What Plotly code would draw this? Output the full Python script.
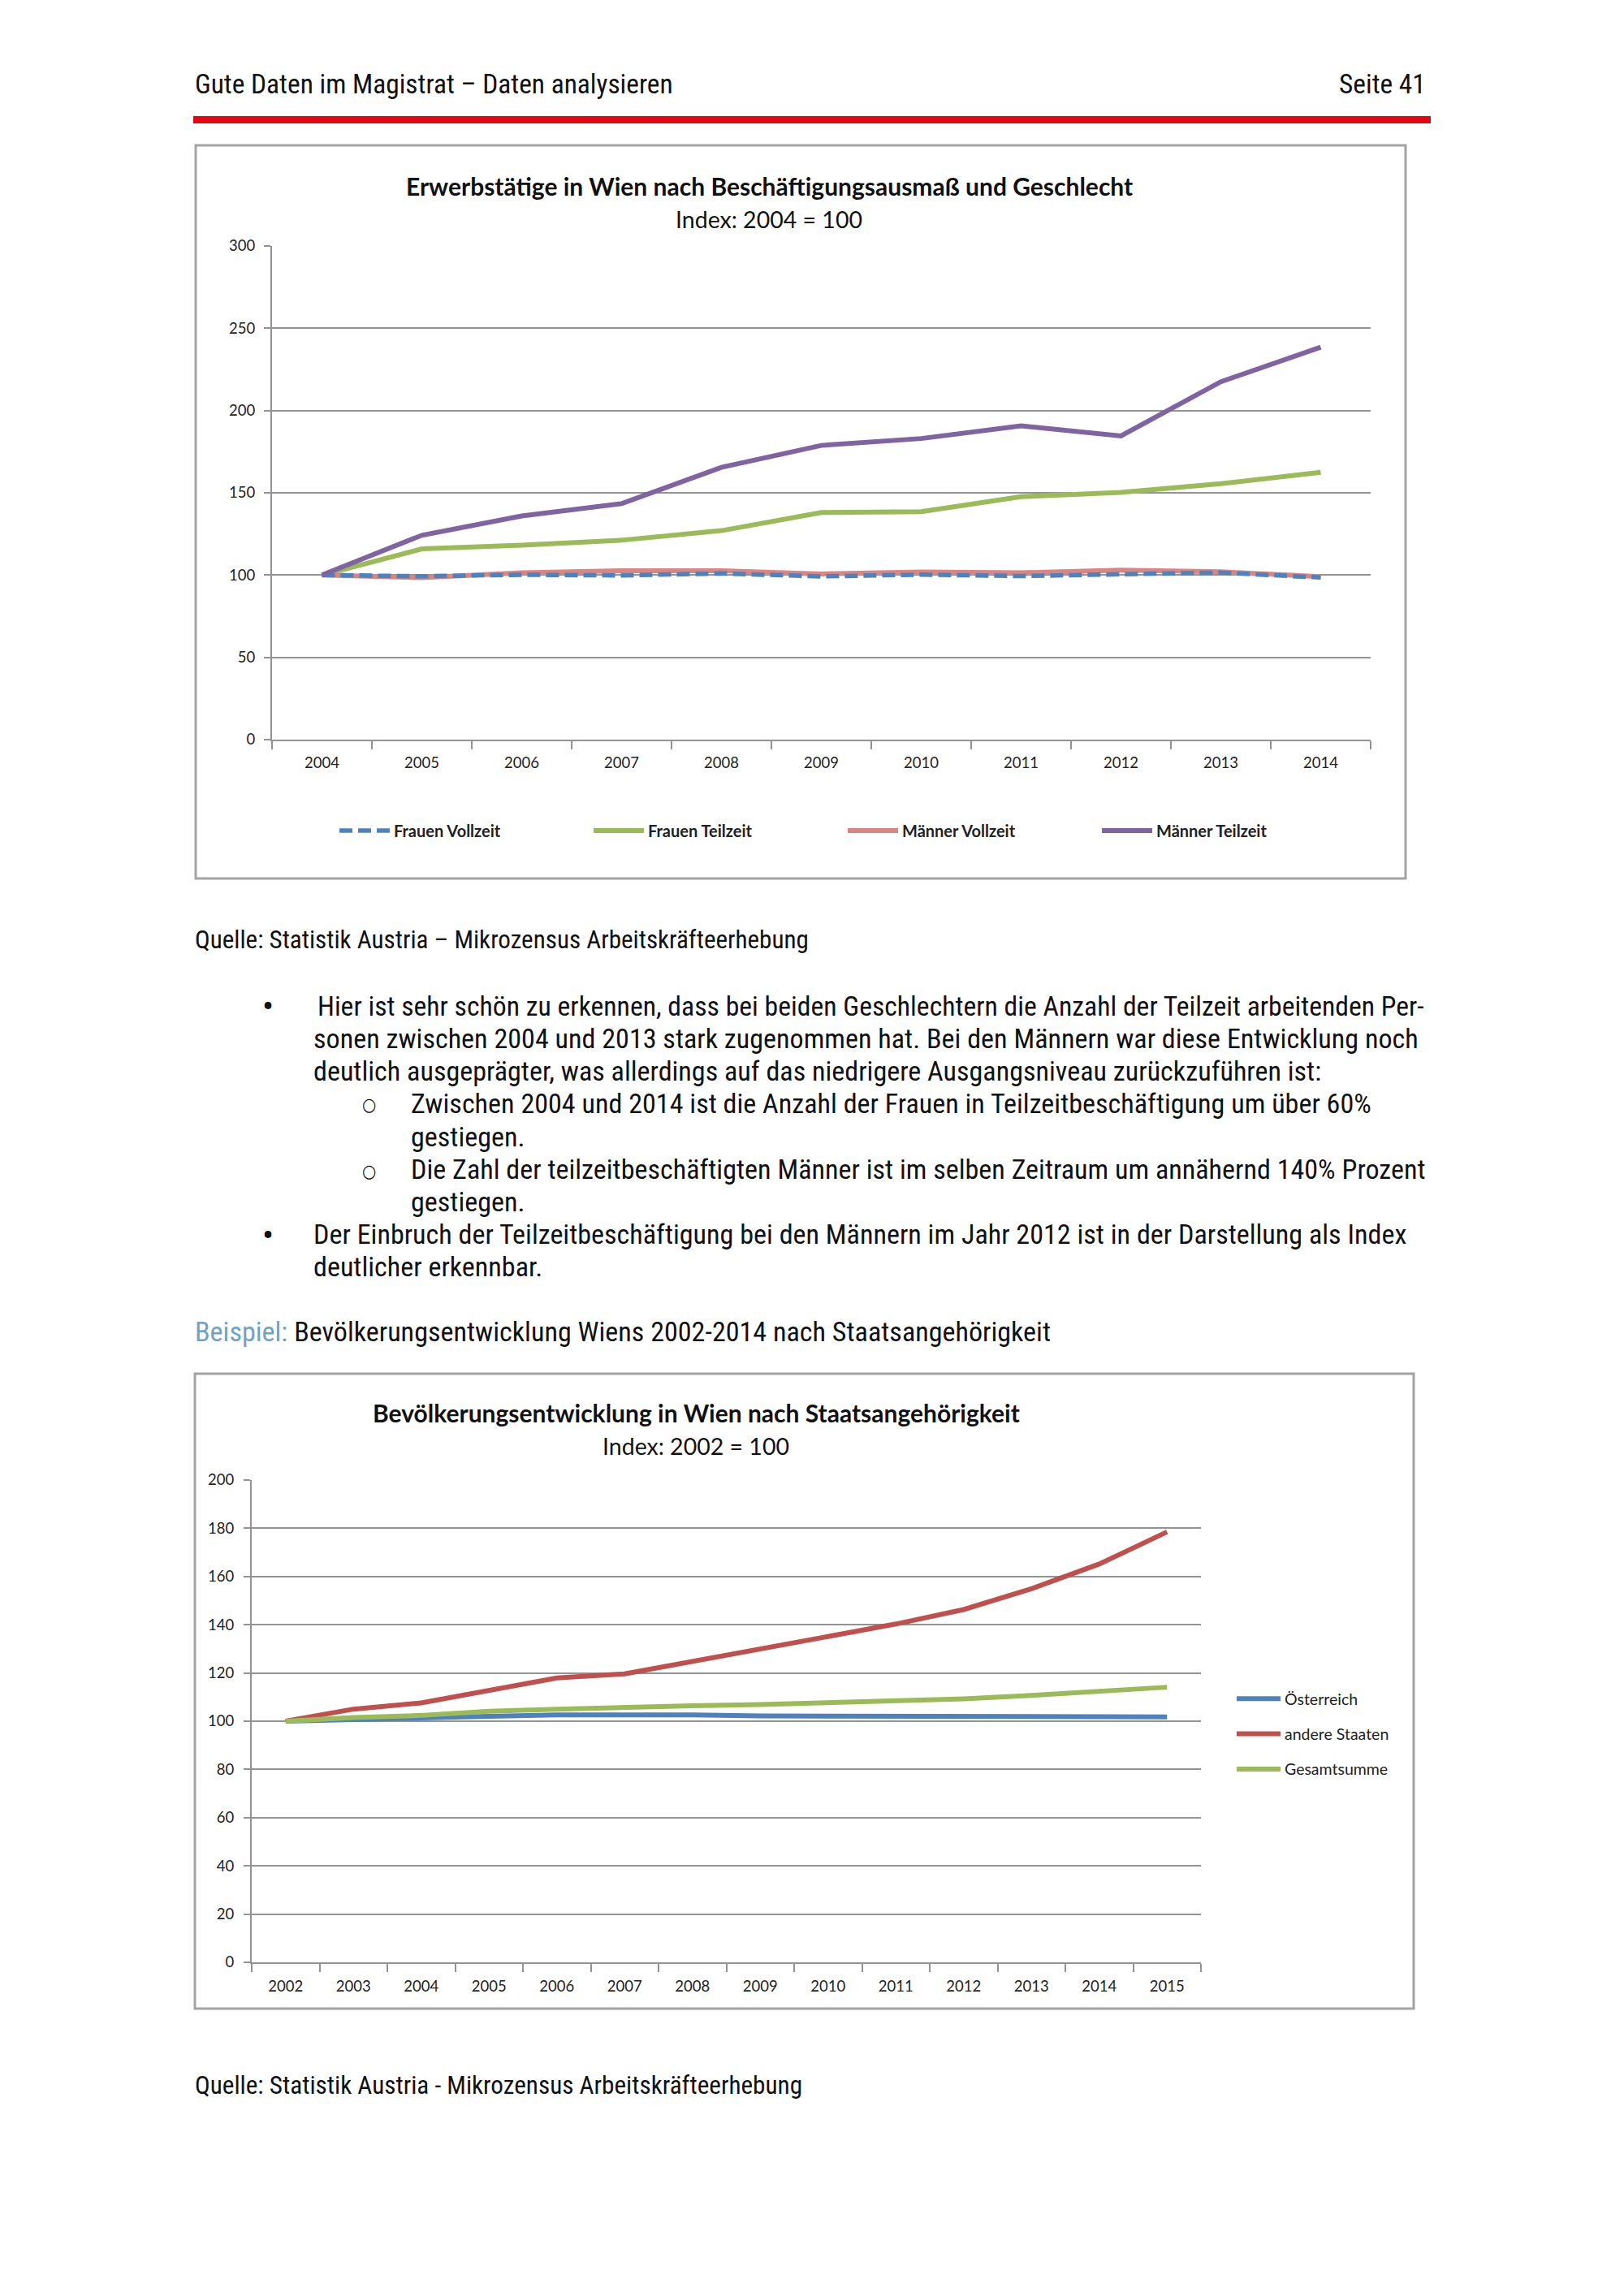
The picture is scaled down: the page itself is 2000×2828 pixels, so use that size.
import plotly.graph_objects as go

W, H = 2000, 2828
OFF = 8  # the page body adds an 8px offset; compensate so page positions match
def px(x): return (x - OFF) / W
def py(y): return 1 - (y - OFF) / H

# ---------------- data ----------------
years1 = [str(y) for y in range(2004, 2015)]
frauen_vollzeit = [100, 99.3, 100.2, 99.8, 101.0, 99.2, 100.3, 99.4, 100.5, 101.5, 98.5]
frauen_teilzeit = [100, 115.9, 118.2, 121.2, 127.0, 138.0, 138.5, 147.6, 150.3, 155.5, 162.5]
maenner_vollzeit = [100, 98.4, 101.4, 102.6, 102.6, 100.7, 101.9, 101.4, 103.0, 102.0, 99.0]
maenner_teilzeit = [100, 124.2, 135.9, 143.4, 165.5, 178.8, 183.0, 190.7, 184.6, 217.5, 238.5]

years2 = [str(y) for y in range(2002, 2016)]
oesterreich = [100, 100.5, 101.0, 102.0, 102.6, 102.8, 102.6, 102.2, 102.2, 102.1, 102.0, 102.0, 101.9, 101.8]
andere_staaten = [100, 105.0, 107.6, 112.7, 117.9, 119.6, 124.8, 129.9, 134.8, 140.3, 146.3, 154.9, 165.2, 178.5]
gesamtsumme = [100, 101.5, 102.4, 104.1, 105.0, 105.9, 106.4, 106.9, 107.6, 108.4, 109.3, 110.7, 112.2, 114.1]

# ---------------- styles ----------------
C_BLUE = "#4F81BD"
C_GREEN = "#9BBB59"
C_SALMON = "#D98683"
C_PURPLE = "#8064A2"
C_RED = "#C0504D"
GRID = "#939393"
CHART_FONT = "Lato, Open Sans, sans-serif"
BODY_FONT = "Liberation Sans Narrow, Arial Narrow, Roboto Condensed, DejaVu Sans Condensed, sans-serif"
LW = 6

fig = go.Figure()

# chart 1 traces (legendrank keeps legend order)
fig.add_trace(go.Scatter(x=years1, y=frauen_teilzeit, name="Frauen Teilzeit", mode="lines",
                         line=dict(color=C_GREEN, width=LW), legend="legend", legendrank=2,
                         xaxis="x", yaxis="y"))
fig.add_trace(go.Scatter(x=years1, y=maenner_vollzeit, name="Männer Vollzeit", mode="lines",
                         line=dict(color=C_SALMON, width=LW), legend="legend", legendrank=3,
                         xaxis="x", yaxis="y"))
fig.add_trace(go.Scatter(x=years1, y=frauen_vollzeit, name="Frauen Vollzeit", mode="lines",
                         line=dict(color=C_BLUE, width=LW - 0.5, dash="16px,7px"), legend="legend",
                         legendrank=1, xaxis="x", yaxis="y"))
fig.add_trace(go.Scatter(x=years1, y=maenner_teilzeit, name="Männer Teilzeit", mode="lines",
                         line=dict(color=C_PURPLE, width=LW), legend="legend", legendrank=4,
                         xaxis="x", yaxis="y"))

# chart 2 traces
fig.add_trace(go.Scatter(x=years2, y=oesterreich, name="Österreich", mode="lines",
                         line=dict(color=C_BLUE, width=LW), legend="legend2", legendgroup="a",
                         xaxis="x2", yaxis="y2"))
fig.add_trace(go.Scatter(x=years2, y=andere_staaten, name="andere Staaten", mode="lines",
                         line=dict(color=C_RED, width=LW), legend="legend2", legendgroup="b",
                         xaxis="x2", yaxis="y2"))
fig.add_trace(go.Scatter(x=years2, y=gesamtsumme, name="Gesamtsumme", mode="lines",
                         line=dict(color=C_GREEN, width=LW), legend="legend2", legendgroup="c",
                         xaxis="x2", yaxis="y2"))

axis_common = dict(showline=True, linecolor=GRID, linewidth=2, ticks="outside",
                   tickcolor=GRID, tickwidth=2, tickfont=dict(family=CHART_FONT, size=18.5, color="#222"),
                   zeroline=False, fixedrange=True, automargin=False)

fig.update_layout(
    width=W, height=H, margin=dict(l=0, r=0, t=0, b=0, autoexpand=False),
    paper_bgcolor="white", plot_bgcolor="white", showlegend=True,
    xaxis=dict(domain=[px(335), px(1688)], anchor="y", type="category", tickson="boundaries",
               range=[-0.5, len(years1) - 0.5],
               ticklen=10, showgrid=False, ticklabelstandoff=11, **axis_common),
    yaxis=dict(domain=[py(911), py(303)], anchor="x", range=[0, 300], dtick=50,
               showgrid=True, gridcolor=GRID, gridwidth=2, ticklen=8, ticklabelstandoff=7,
               **axis_common),
    xaxis2=dict(domain=[px(310), px(1479)], anchor="y2", type="category", tickson="boundaries",
                range=[-0.5, len(years2) - 0.5],
                ticklen=10, showgrid=False, ticklabelstandoff=12, **axis_common),
    yaxis2=dict(domain=[py(2417), py(1823)], anchor="x2", range=[0, 200], dtick=20,
                showgrid=True, gridcolor=GRID, gridwidth=2, ticklen=8, ticklabelstandoff=8,
                **axis_common),
    legend=dict(orientation="h", x=px(413), y=py(1023), xanchor="left", yanchor="middle",
                itemwidth=62, entrywidth=236, entrywidthmode="pixels",
                font=dict(family=CHART_FONT, size=20, weight="bold", color="#222"),
                bgcolor="rgba(0,0,0,0)"),
    legend2=dict(orientation="v", x=px(1518), y=py(2073), xanchor="left", yanchor="top",
                 itemwidth=54, tracegroupgap=15,
                 font=dict(family=CHART_FONT, size=19.5, color="#222"),
                 bgcolor="rgba(0,0,0,0)"),
)

shapes = [
    # red header rule
    dict(type="rect", xref="paper", yref="paper", x0=px(238), x1=px(1762), y0=py(152), y1=py(143),
         fillcolor="#E30613", line=dict(width=0)),
    # chart frames
    dict(type="rect", xref="paper", yref="paper", x0=px(241), x1=px(1731), y0=py(1082), y1=py(179),
         line=dict(color="#A3A3A3", width=3), fillcolor="rgba(0,0,0,0)", layer="below"),
    dict(type="rect", xref="paper", yref="paper", x0=px(240), x1=px(1741), y0=py(2474), y1=py(1692),
         line=dict(color="#A3A3A3", width=3), fillcolor="rgba(0,0,0,0)", layer="below"),
]
fig.update_layout(shapes=shapes)

ann = []
def text(x, y, s, size=34.1, family=BODY_FONT, anchor="left", color="#111", weight="normal"):
    ann.append(dict(xref="paper", yref="paper", x=px(x), y=py(y), text=s, showarrow=False,
                    xanchor=anchor, yanchor="middle",
                    font=dict(family=family, size=size, color=color, weight=weight)))

# header
text(238, 104, "Gute Daten im Magistrat – Daten analysieren", size=33.4)
text(1758, 104, "Seite 41", size=33.4, anchor="right")

# chart titles
text(947, 229, "Erwerbstätige in Wien nach Beschäftigungsausmaß und Geschlecht", size=30,
     family=CHART_FONT, anchor="center", color="#111", weight="bold")
text(947, 270, "Index: 2004 = 100", size=28.5, family=CHART_FONT, anchor="center", color="#111")
text(857, 1740, "Bevölkerungsentwicklung in Wien nach Staatsangehörigkeit", size=30,
     family=CHART_FONT, anchor="center", color="#111", weight="bold")
text(857, 1781, "Index: 2002 = 100", size=28.5, family=CHART_FONT, anchor="center", color="#111")

# body
text(238, 1157, "Quelle: Statistik Austria – Mikrozensus Arbeitskräfteerhebung", size=31.1)
text(330, 1240, "•", size=42, anchor="center")
text(389, 1239, "Hier ist sehr schön zu erkennen, dass bei beiden Geschlechtern die Anzahl der Teilzeit arbeitenden Per-",
     size=33.7)
text(384, 1279, "sonen zwischen 2004 und 2013 stark zugenommen hat. Bei den Männern war diese Entwicklung noch")
text(384, 1319, "deutlich ausgeprägter, was allerdings auf das niedrigere Ausgangsniveau zurückzuführen ist:")
text(454, 1361, "○", size=22, anchor="center")
text(504, 1359, "Zwischen 2004 und 2014 ist die Anzahl der Frauen in Teilzeitbeschäftigung um über 60%")
text(504, 1400, "gestiegen.")
text(454, 1442, "○", size=22, anchor="center")
text(504, 1440, "Die Zahl der teilzeitbeschäftigten Männer ist im selben Zeitraum um annähernd 140% Prozent")
text(504, 1480, "gestiegen.")
text(330, 1521, "•", size=42, anchor="center")
text(384, 1520, "Der Einbruch der Teilzeitbeschäftigung bei den Männern im Jahr 2012 ist in der Darstellung als Index")
text(384, 1560, "deutlicher erkennbar.")
text(238, 1640, '<span style="color:#6FA3C2">Beispiel:</span> Bevölkerungsentwicklung Wiens 2002-2014 nach Staatsangehörigkeit')
text(238, 2568, "Quelle: Statistik Austria - Mikrozensus Arbeitskräfteerhebung", size=31.2)

fig.update_layout(annotations=ann)
fig.write_html("out.html")
